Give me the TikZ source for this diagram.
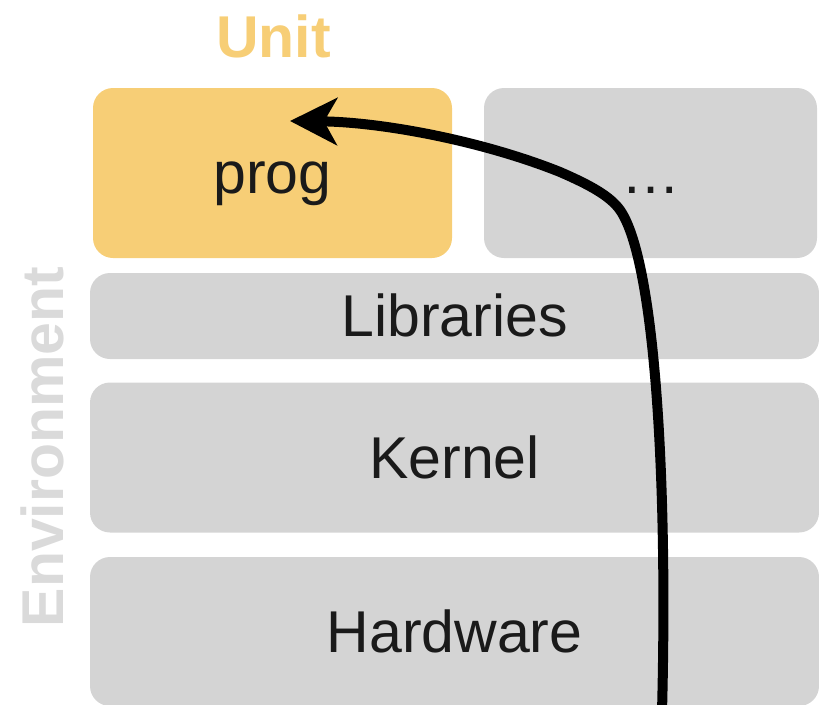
\documentclass[tikz,border=0pt]{standalone}
\usepackage{fontspec}
\setmainfont{Liberation Sans}
\usetikzlibrary{arrows.meta}
\definecolor{unityellow}{RGB}{247,206,118}
\definecolor{boxgray}{RGB}{212,212,212}
\definecolor{envgray}{RGB}{218,218,218}
\definecolor{inkblack}{RGB}{26,26,26}
\begin{document}
\begin{tikzpicture}[x=1pt,y=-1pt,
  layer/.style={rounded corners=20pt, inner sep=0pt, text height=41pt, text depth=0pt,
    font=\fontsize{59}{60}\selectfont, text=inkblack},
  title/.style={font=\fontsize{59}{60}\selectfont\bfseries, inner sep=0pt},
  flow/.style={line width=10pt, -{Stealth[length=47pt,width=47pt,inset=13pt]}}]
\useasboundingbox (0,0) rectangle (819,704);
\clip (0,0) rectangle (819,704);
\node[title, text=unityellow, anchor=base] (unit) at (273.5,57) {Unit};
\node[title, text=envgray, rotate=90, anchor=base] (env) at (63,447) {Environment};
\node[layer, fill=unityellow, minimum width=359pt, minimum height=170pt] (prog) at (272.5,173) {prog};
\node[layer, fill=boxgray, minimum width=333pt, minimum height=170pt] (more) at (650.5,173) {…};
\node[layer, fill=boxgray, minimum width=729pt, minimum height=86pt] (libs) at (454.5,316) {Libraries};
\node[layer, fill=boxgray, minimum width=729pt, minimum height=150pt] (kernel) at (454.5,457.5) {Kernel};
\node[layer, fill=boxgray, minimum width=729pt, minimum height=149pt] (hw) at (454.5,631.5) {Hardware};
\coordinate (src) at (662,712);
\coordinate (bend) at (620,210);
\coordinate (turn) at (560,172);
\coordinate (tipend) at (290,121);
\draw[flow] (src) .. controls (668,480) and (655,260) .. (bend)
  .. controls (610,196) and (590,185) .. (turn)
  .. controls (480,140) and (380,122) .. (tipend);
\end{tikzpicture}
\end{document}
